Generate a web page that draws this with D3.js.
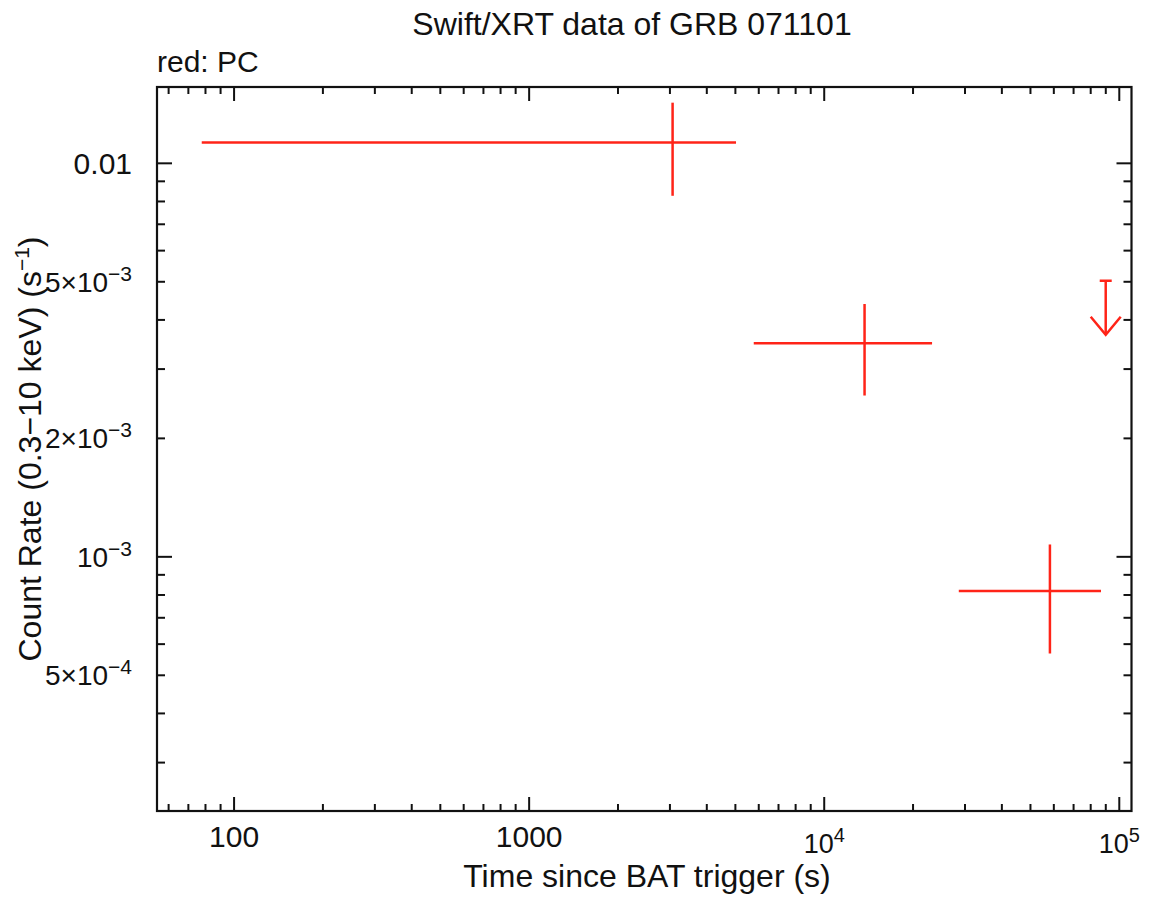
<!DOCTYPE html>
<html>
<head>
<meta charset="utf-8">
<script src="https://cdn.jsdelivr.net/npm/d3@7"></script>
<style>
  body { margin: 0; background: #fff; }
  text { font-family: "Liberation Sans", Arial, Helvetica, sans-serif; fill: #111; }
</style>
</head>
<body>
<div id="chart"></div>
<script>
// PC mode points: time (s), time bin edges, count rate and its error range
var times = [3063, 13700, 58200];
var timeLo = [77.7, 5770, 28580];
var timeHi = [5025, 23200, 86700];
var rates = [0.01129, 0.003487, 0.000819];
var rateLo = [0.00827, 0.00257, 0.000568];
var rateHi = [0.01426, 0.00439, 0.001075];

// upper limit
var ulTimes = [89950];
var ulRates = [0.00503];

// tick labels
var xTickValues = [100, 1000, 1e4, 1e5];
var xTickLabels = [["100", ""], ["1000", ""], ["10", "4"], ["10", "5"]];
var yTickValues = [0.01, 5e-3, 2e-3, 1e-3, 5e-4];
var yTickLabels = [["0.01", ""], ["5\u00d710", "\u22123"], ["2\u00d710", "\u22123"], ["10", "\u22123"], ["5\u00d710", "\u22124"]];

var svgWidth = 1149;
var svgHeight = 897;
var margin = { top: 87, right: 17.5, bottom: 86, left: 157 };
var width = svgWidth - margin.left - margin.right;
var height = svgHeight - margin.top - margin.bottom;
var red = "#ff2418";

var svg = d3.select("#chart")
  .append("svg")
  .attr("width", svgWidth)
  .attr("height", svgHeight);

var chartGroup = svg.append("g")
  .attr("transform", `translate(${margin.left}, ${margin.top})`);

var xScale = d3.scaleLog()
  .domain([54.8, 110000])
  .range([0, width]);

var yScale = d3.scaleLog()
  .domain([2.26e-4, 0.01563])
  .range([height, 0]);

// minor ticks: 2..9 in every decade inside the domain
function minorTicks(scale) {
  var d = scale.domain();
  var lo = Math.min(d[0], d[1]), hi = Math.max(d[0], d[1]);
  var out = [];
  for (var e = Math.floor(Math.log10(lo)); e <= Math.ceil(Math.log10(hi)); e++) {
    for (var m = 1; m < 10; m++) {
      var v = m * Math.pow(10, e);
      if (v >= lo && v <= hi) out.push({ v: v, major: m === 1 });
    }
  }
  return out;
}

var ticksG = chartGroup.append("g")
  .attr("stroke", "#111")
  .attr("stroke-width", 2);

var xt = minorTicks(xScale);
// bottom and top ticks
ticksG.selectAll(".xb").data(xt).enter().append("line")
  .attr("x1", d => xScale(d.v)).attr("x2", d => xScale(d.v))
  .attr("y1", height).attr("y2", d => height - (d.major ? 14 : 7));
ticksG.selectAll(".xt").data(xt).enter().append("line")
  .attr("x1", d => xScale(d.v)).attr("x2", d => xScale(d.v))
  .attr("y1", 0).attr("y2", d => (d.major ? 14 : 7));

var yt = minorTicks(yScale);
ticksG.selectAll(".yl").data(yt).enter().append("line")
  .attr("y1", d => yScale(d.v)).attr("y2", d => yScale(d.v))
  .attr("x1", 0).attr("x2", d => (d.major ? 15 : 8));
ticksG.selectAll(".yr").data(yt).enter().append("line")
  .attr("y1", d => yScale(d.v)).attr("y2", d => yScale(d.v))
  .attr("x1", width).attr("x2", d => width - (d.major ? 15 : 8));

// frame
chartGroup.append("rect")
  .attr("width", width)
  .attr("height", height)
  .attr("fill", "none")
  .attr("stroke", "#111")
  .attr("stroke-width", 2.2);

// x tick labels
var xLab = chartGroup.selectAll(".xlab")
  .data(xTickValues)
  .enter()
  .append("text")
  .attr("x", d => xScale(d))
  .attr("y", (d, i) => xTickLabels[i][1] ? height + 42 : height + 36)
  .attr("text-anchor", "middle")
  .attr("font-size", (d, i) => xTickLabels[i][1] ? "27px" : "30px");
xLab.append("tspan").text((d, i) => xTickLabels[i][0]);
xLab.append("tspan")
  .attr("font-size", "20px")
  .attr("dy", "-11")
  .text((d, i) => xTickLabels[i][1]);

// y tick labels
var yLab = chartGroup.selectAll(".ylab")
  .data(yTickValues)
  .enter()
  .append("text")
  .attr("x", -25)
  .attr("y", (d, i) => yScale(d) + (yTickLabels[i][1] ? 10 : 11))
  .attr("text-anchor", "end")
  .attr("font-size", (d, i) => yTickLabels[i][1] ? "28px" : "30px");
yLab.append("tspan").text((d, i) => yTickLabels[i][0]);
yLab.append("tspan")
  .attr("font-size", "21px")
  .attr("dy", "-11")
  .text((d, i) => yTickLabels[i][1]);

// error bars
var pts = times.map((t, i) => ({ t: t, lo: timeLo[i], hi: timeHi[i], r: rates[i], rlo: rateLo[i], rhi: rateHi[i] }));
var dataG = chartGroup.append("g")
  .attr("stroke", red)
  .attr("stroke-width", 2.5)
  .attr("fill", "none");

dataG.selectAll(".hbar").data(pts).enter().append("line")
  .attr("x1", d => xScale(d.lo)).attr("x2", d => xScale(d.hi))
  .attr("y1", d => yScale(d.r)).attr("y2", d => yScale(d.r));
dataG.selectAll(".vbar").data(pts).enter().append("line")
  .attr("x1", d => xScale(d.t)).attr("x2", d => xScale(d.t))
  .attr("y1", d => yScale(d.rlo)).attr("y2", d => yScale(d.rhi));

// upper limit arrow
var ul = ulTimes.map((t, i) => ({ t: t, r: ulRates[i] }));
var ulG = dataG.selectAll(".ul").data(ul).enter().append("g")
  .attr("transform", d => `translate(${xScale(d.t)}, ${yScale(d.r)})`);
ulG.append("line").attr("x1", -6).attr("x2", 6).attr("y1", 0).attr("y2", 0);
ulG.append("line").attr("x1", 0).attr("x2", 0).attr("y1", 0).attr("y2", 54);
ulG.append("path").attr("d", "M-15,36 L0,54 L15,36");

// titles
svg.append("text")
  .attr("x", 632)
  .attr("y", 35)
  .attr("text-anchor", "middle")
  .attr("font-size", "32px")
  .text("Swift/XRT data of GRB 071101");

svg.append("text")
  .attr("x", margin.left)
  .attr("y", 72)
  .attr("font-size", "30px")
  .text("red: PC");

svg.append("text")
  .attr("x", 647)
  .attr("y", 887)
  .attr("text-anchor", "middle")
  .attr("font-size", "32px")
  .text("Time since BAT trigger (s)");

var yTitle = svg.append("text")
  .attr("transform", "translate(41, 449) rotate(-90)")
  .attr("text-anchor", "middle")
  .attr("font-size", "32px");
yTitle.append("tspan").text("Count Rate (0.3\u221210 keV) (s");
yTitle.append("tspan").attr("font-size", "21px").attr("dy", "-12").text("\u22121");
yTitle.append("tspan").attr("dy", "12").text(")");
</script>
</body>
</html>
